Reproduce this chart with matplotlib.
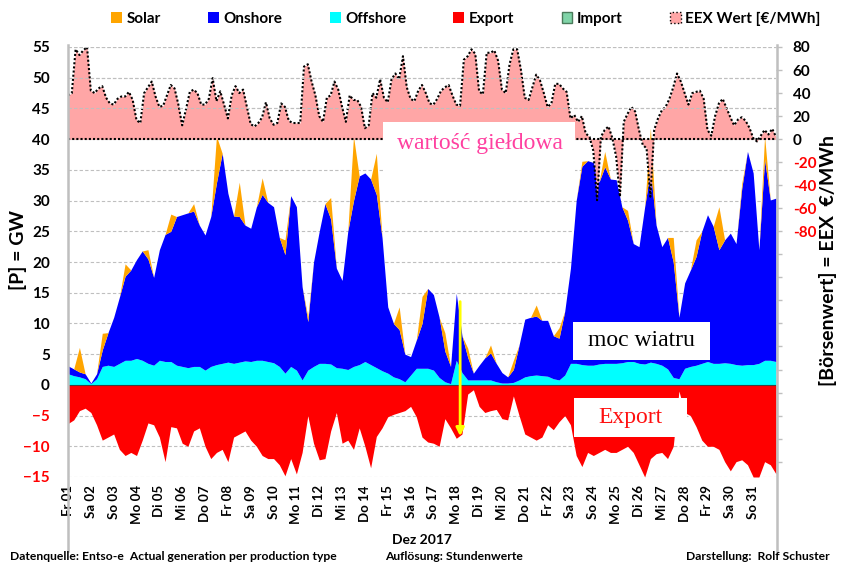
import matplotlib
matplotlib.use("Agg")
import matplotlib.pyplot as plt
import matplotlib.transforms as mtransforms
import numpy as np
from matplotlib.lines import Line2D
from matplotlib.patches import Patch, Rectangle

plt.rcParams['font.family'] = ['Lato', 'DejaVu Sans']

W, H = 841, 566

days = ['Fr 01', 'Sa 02', 'So 03', 'Mo 04', 'Di 05', 'Mi 06', 'Do 07', 'Fr 08', 'Sa 09', 'So 10',
        'Mo 11', 'Di 12', 'Mi 13', 'Do 14', 'Fr 15', 'Sa 16', 'So 17', 'Mo 18', 'Di 19', 'Mi 20',
        'Do 21', 'Fr 22', 'Sa 23', 'So 24', 'Mo 25', 'Di 26', 'Mi 27', 'Do 28', 'Fr 29', 'Sa 30', 'So 31']

# generation in GW, sampled at 00, 06, 12, 18 h of each day (+ end of month)
offshore = [1.8, 1.5, 1.3, 1.0,  0.2, 1.0, 3.0, 3.2,  3.0, 3.5, 4.0, 4.0,  4.3, 4.0, 3.5, 3.2,
            4.0, 3.8, 3.8, 3.2,  3.0, 2.8, 3.0, 3.0,  2.4, 3.0, 3.3, 3.5,  3.7, 3.5, 3.7, 3.9,
            3.8, 4.0, 4.0, 3.8,  3.6, 3.0, 1.9, 3.0,  2.4, 0.8, 2.4, 3.0,  3.5, 3.5, 3.4, 2.8,
            2.7, 2.5, 3.0, 3.3,  3.8, 3.3, 2.8, 2.3,  1.9, 1.3, 1.0, 0.5,  1.6, 2.7, 2.7, 2.7,
            2.4, 1.2, 0.5, 0.2,  4.0, 2.0, 0.8, 0.8,  0.8, 0.8, 0.8, 0.5,  0.3, 0.3, 0.4, 0.8,
            1.3, 1.5, 1.6, 1.5,  1.4, 1.0, 0.8, 1.6,  3.5, 3.5, 3.3, 3.2,  3.2, 3.4, 3.5, 3.5,
            3.5, 3.6, 3.8, 3.8,  3.5, 3.4, 3.7, 3.5,  3.2, 2.6, 1.2, 1.0,  2.7, 3.0, 3.2, 3.5,
            3.8, 3.5, 3.5, 3.6,  3.5, 3.3, 3.2, 3.3,  3.3, 3.5, 4.0, 4.0,  3.8]
onshore = [1.3, 1.1, 0.8, 0.8,  0.1, 0.8, 2.7, 5.3,  8.0, 10.8, 13.7, 14.7,  16.1, 17.8, 17.0, 14.3,
           18.0, 20.7, 21.2, 24.2,  24.7, 25.2, 25.3, 23.0,  22.0, 24.4, 29.6, 34.2,  27.5, 24.0, 23.7, 22.1,
           21.7, 25.0, 27.0, 25.9,  25.4, 21.0, 19.3, 27.8,  26.6, 15.2, 7.9, 17.0,  21.5, 26.0, 23.6, 16.2,
           14.3, 22.5, 27.0, 30.7,  30.7, 30.2, 28.2, 21.7,  10.8, 8.7, 8.0, 4.5,  3.0, 4.6, 7.3, 13.0,
           12.3, 9.8, 5.0, 2.8,  10.9, 6.0, 3.7, 1.1,  2.4, 3.6, 4.4, 3.0,  1.7, 1.0, 2.1, 5.7,
           9.4, 9.5, 9.6, 9.0,  9.1, 7.0, 6.8, 10.4,  15.5, 26.5, 32.3, 33.3,  33.0, 29.6, 32.0, 30.0,
           29.9, 25.4, 23.0, 19.2,  19.0, 25.6, 31.3, 22.5,  19.3, 21.4, 18.8, 10.0,  13.9, 15.7, 17.7, 21.5,
           23.9, 22.3, 18.5, 20.0,  21.2, 19.7, 28.8, 34.7,  31.2, 18.5, 32.7, 26.1,  26.6]
solar = [0, 0, 4.0, 0,  0, 0, 2.7, 0,  0, 0, 2.0, 0,  0, 0, 1.5, 0,
         0, 0, 2.8, 0,  0, 0, 1.2, 0,  0, 0, 7.6, 0,  0, 0, 5.6, 0,
         0, 0, 2.7, 0,  0, 0, 2.4, 0,  0, 0, 0.8, 0,  0, 0, 3.5, 0,
         0, 0, 10.5, 0,  0, 0, 6.7, 0,  0, 0, 3.7, 0,  0, 0, 4.4, 0,
         0, 0, 3.0, 0,  0, 0, 1.5, 0,  0, 0, 1.3, 0,  0, 0, 1.5, 0,
         0, 0, 1.8, 0,  0, 0, 1.7, 0,  0, 0, 0.8, 0,  0, 0, 2.5, 0,
         0, 0, 1.6, 0,  0, 0, 6.8, 0,  0, 0, 4.0, 0,  0, 0, 2.7, 0,
         0, 0, 7.0, 0,  0, 0, 0.8, 0,  0, 0, 3.8, 0,  0]
export = [-6.3, -5.7, -4.2, -3.8,  -4.5, -6.5, -9.0, -8.5,  -8.0, -10.5, -11.5, -11.0,  -11.5, -9.0, -6.2, -6.5,
          -8.5, -12.5, -6.8, -7.0,  -9.5, -10.0, -7.5, -7.0,  -10.0, -12.0, -11.0, -10.5,  -12.5, -8.5, -8.0, -7.5,
          -9.0, -10.0, -11.5, -12.0,  -12.0, -13.0, -14.8, -12.0,  -14.5, -11.0, -5.0, -9.5,  -12.2, -12.0, -7.5, -4.5,
          -9.5, -9.0, -10.5, -7.0,  -10.0, -13.5, -8.4, -7.0,  -5.2, -4.8, -4.5, -4.2,  -3.5, -5.2, -8.5, -9.3,
          -9.5, -10.0, -5.5, -7.0,  -8.7, -8.0, -1.5, -0.8,  -3.5, -4.5, -4.2, -4.0,  -5.5, -5.7, -1.8, -5.0,
          -8.0, -8.5, -9.0, -8.5,  -6.5, -7.3, -6.0, -5.0,  -6.5, -11.5, -13.3, -11.0,  -11.5, -11.0, -10.5, -11.0,
          -11.0, -10.5, -10.0, -11.0,  -13.0, -15.0, -12.0, -11.2,  -11.0, -12.0, -10.0, -1.0,  -4.5, -5.0, -6.8, -9.0,
          -10.0, -10.0, -10.5, -12.5,  -14.0, -12.5, -12.2, -13.0,  -15.0, -15.0, -12.5, -13.0,  -14.5]

# EEX price in EUR/MWh, sampled every 4 h
eex_price = [38, 40, 78, 73, 77, 80,   42, 40, 44, 46, 36, 31,   30, 35, 37, 37, 41, 34,
             16.5, 14, 40, 45, 50, 37,   28, 29, 38, 47, 44, 30,   12, 26, 41, 43, 40, 30,
             30, 35, 53, 33, 41.5, 30,   18, 38, 46, 40, 43, 28,   13, 11, 14, 19, 32, 18,
             12.5, 14, 31, 28, 16, 14,   14, 14, 63, 65, 50, 38,   20, 15, 36, 38, 50, 43,
             28, 15, 38, 34, 34, 28,   9.5, 12, 40, 36, 52, 36,   32, 52, 57, 52, 72, 45,
             35, 33, 42, 47, 40, 31,   30, 35, 42, 45, 47, 38,   30, 29, 69, 72, 78, 74,
             41.5, 39, 75, 75, 77, 68,   43, 40, 65, 78, 78, 60,   36, 34, 45, 56, 51, 40,
             28, 31, 48, 48, 44, 41,   18, 21, 15, 20, 5, 2,   -10, -53, 2, 8, 11, 1,
             -15, -50, 15, 22, 28, 24,   8, -5, -8, -50, 8, 18,   25, 28, 35, 45, 57, 50,
             40, 30, 40, 41, 42, 35,   8, 3, 20, 31, 35, 27,   19, 12, 17, 19, 16, 10,
             1, -2, 3, 8, 4, 9,   2]

t_gen = np.arange(len(offshore)) / 4.0
t_eex = np.arange(len(eex_price)) / 6.0

off = np.array(offshore)
wind = off + np.array(onshore)
total = wind + np.array(solar)


def fx(px):
    return px / W


def fy(py):
    return 1 - py / H


fig = plt.figure(figsize=(W / 100, H / 100), dpi=100)
ax = fig.add_axes([fx(68), fy(477), fx(776) - fx(68), fy(47) - fy(477)])
ax2 = ax.twinx()

ax.fill_between(t_gen, 0, off, color='#00FFFF', lw=0)
ax.fill_between(t_gen, off, wind, color='#0000FF', lw=0)
ax.fill_between(t_gen, wind, total, color='#FFA500', lw=0)
ax.fill_between(t_gen, 0, export, color='#FF0000', lw=0)
ax.axhline(0, color='#404040', lw=0.8, zorder=3)

ax.set_xlim(0, 31)
ax.set_ylim(-15, 55)
ax.set_yticks(range(-15, 56, 5))
ax.yaxis.grid(True, ls=(0, (3, 2)), color='#BFBFBF', lw=0.8)
ax.set_axisbelow(True)
ax.tick_params(axis='y', length=0, pad=13, labelsize=11)
for lab in ax.get_yticklabels():
    lab.set_fontweight('bold')
    if lab.get_text().startswith('-') or lab.get_text().startswith('\u2212'):
        lab.set_color('#FF0000')
ax.set_xticks(np.arange(31))
ax.set_xticklabels(days, rotation=90, fontsize=9.5, fontweight='bold')
ax.tick_params(axis='x', length=0, pad=6)

# price on right axis: 0 EUR sits at 40 GW, 15 GW span = 80 EUR
scale = 80 / 15
ax2.set_ylim((-15 - 40) * scale, (55 - 40) * scale)
ax2.fill_between(t_eex, 0, eex_price, color='#FFA6A6', lw=0)
ax2.plot(t_eex, eex_price, color='black', ls=(0, (1, 1)), lw=1.5)
ax2.axhline(0, color='black', ls=(0, (1, 1)), lw=1.5)
blend = mtransforms.blended_transform_factory(ax2.transAxes, ax.transData)
for g in (45, 50, 55):
    ax2.plot([0, 1], [g, g], transform=blend, ls=(0, (3, 2)), color='#BFBFBF', lw=0.8)
rticks = np.arange(-280, 81, 20)
ax2.set_yticks(rticks)
ax2.set_yticklabels([str(v) if v >= -80 else '' for v in rticks], fontsize=11, fontweight='bold')
for v, lab in zip(rticks, ax2.get_yticklabels()):
    if v < 0:
        lab.set_color('#FF0000')
ax2.tick_params(axis='y', length=4, color='#BFBFBF', width=1, pad=8)

for a in (ax, ax2):
    for s in a.spines.values():
        s.set_visible(False)

# long grey frame lines
for xp in (68, 776.5):
    fig.add_artist(Line2D([fx(xp), fx(xp)], [fy(45), fy(551)], color='#BFBFBF', lw=1.8,
                          transform=fig.transFigure))

ax.annotate('', xy=(17.17, -8.8), xytext=(17.17, 14.0),
            arrowprops=dict(arrowstyle='-|>', color='#FFFF00', lw=2, mutation_scale=12), zorder=10)

# white boxes with Polish labels
boxes = [(383, 122, 575, 172), (573, 322, 710, 360), (574, 398, 687, 437)]
for x0, y0, x1, y1 in boxes:
    fig.add_artist(Rectangle((fx(x0), fy(y1)), fx(x1) - fx(x0), fy(y0) - fy(y1),
                             transform=fig.transFigure, facecolor='white', edgecolor='none', zorder=5))
for (xc, yc), txt, col in [((480, 144), 'wartość giełdowa', '#FF40A0'),
                           ((641, 341), 'moc wiatru', 'black'),
                           ((630, 418), 'Export', '#FF1010')]:
    fig.text(fx(xc), fy(yc), txt, color=col, fontsize=17, family='Liberation Serif',
             ha='center', va='center', zorder=6)

handles = [Patch(facecolor='#FFA500'), Patch(facecolor='#0000FF'), Patch(facecolor='#00FFFF'),
           Patch(facecolor='#FF0000'), Patch(facecolor='#80D4A8', edgecolor='#4A7A5A', lw=1),
           Patch(facecolor='#FFA6A6', edgecolor='black', ls=':', lw=1)]
labels = ['Solar', 'Onshore', 'Offshore', 'Export', 'Import', 'EEX Wert [€/MWh]']
fig.legend(handles, labels, loc='center', bbox_to_anchor=(fx(466), fy(19)), ncol=6, frameon=False,
           handlelength=0.7, handleheight=0.7, handletextpad=0.3, columnspacing=3.1,
           prop={'weight': 'bold', 'size': 11})

fig.text(fx(18), fy(250), '[P] = GW', rotation=90, fontsize=14, fontweight='bold', ha='center', va='center')
fig.text(fx(828), fy(261), '[Börsenwert] = EEX  €/MWh', rotation=90, fontsize=14, fontweight='bold',
         ha='center', va='center')
fig.text(fx(422), fy(540), 'Dez 2017', fontsize=10, fontweight='bold', ha='center', va='center')
fig.text(fx(10), fy(557), 'Datenquelle: Entso-e  Actual generation per production type', fontsize=8.7,
         fontweight='bold', ha='left', va='center')
fig.text(fx(385), fy(557), 'Auflösung: Stundenwerte', fontsize=8.7, fontweight='bold', ha='left', va='center')
fig.text(fx(830), fy(557), 'Darstellung:  Rolf Schuster', fontsize=8.7, fontweight='bold', ha='right',
         va='center')

fig.savefig('out.png', dpi=100, facecolor='white')
